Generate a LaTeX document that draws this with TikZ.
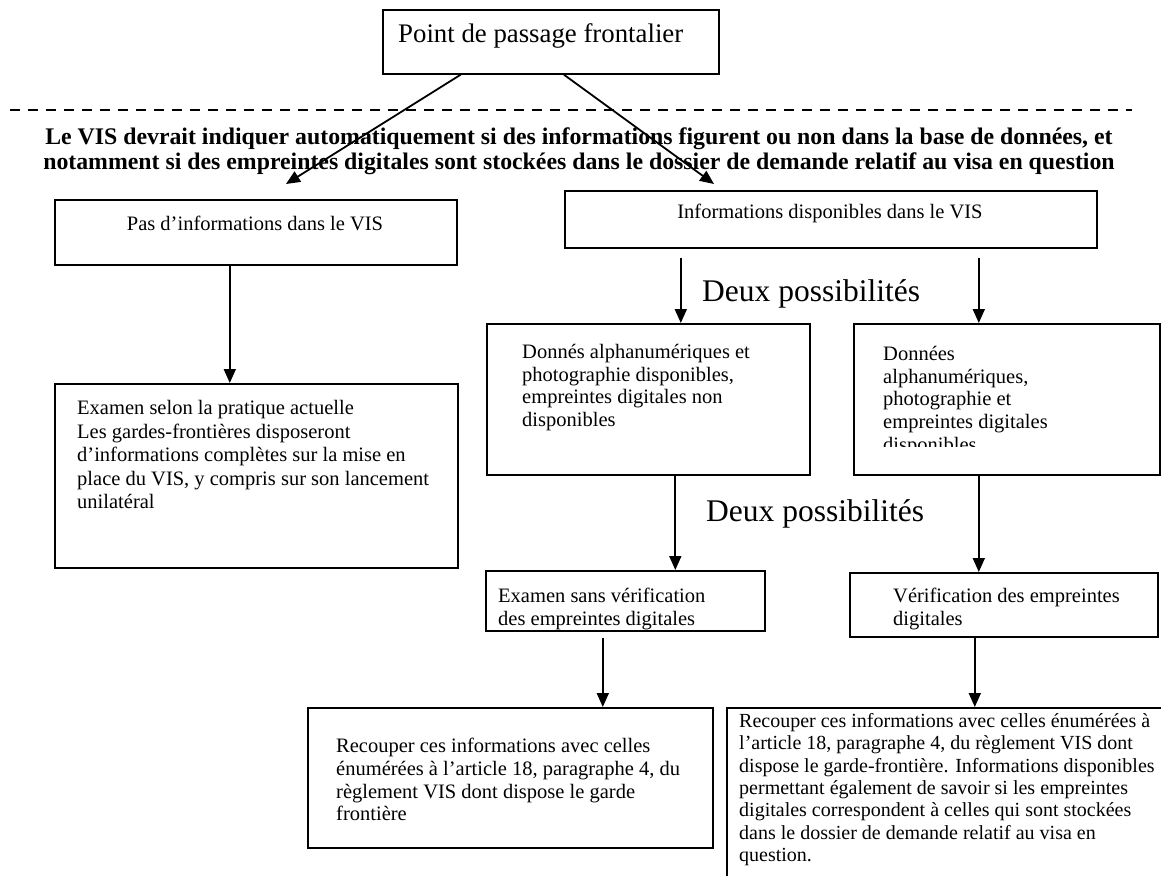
\documentclass[tikz,border=0pt]{standalone}
\usepackage{fontspec}
\setmainfont{Liberation Serif}
\usetikzlibrary{arrows.meta}
\begin{document}
\begin{tikzpicture}[x=1pt,y=-1pt,
  box/.style={draw, line width=1.6pt, inner sep=0pt, anchor=north west},
  txt/.style={inner sep=0pt, align=left, anchor=north west, font=\fontsize{20.5}{22.7}\selectfont},
  onetxt/.style={inner sep=0pt, anchor=base, font=\fontsize{20.5}{22.7}\selectfont},
  big/.style={inner sep=0pt, anchor=base west, font=\fontsize{31.5}{36}\selectfont},
  arr/.style={line width=1.8pt, -{Triangle[length=14pt,width=12pt]}},
  dashline/.style={line width=2pt, dash pattern=on 10pt off 8pt}]
\useasboundingbox (0,0) rectangle (1161,875);
\clip (0,0) rectangle (1161,875);

% top box
\node[box, minimum width=336pt, minimum height=64pt] (top) at (382,9) {};
\node[inner sep=0pt, anchor=base west, font=\fontsize{26.8}{30}\selectfont] (toptxt) at (398,42) {Point de passage frontalier};

% dashed separator
\coordinate (dl) at (10,110);
\coordinate (dr) at (1132,110);
\draw[dashline] (dl) -- (dr);

% bold statement
\node[inner sep=0pt, anchor=north, align=center, font=\bfseries\fontsize{23.8}{24.5}\selectfont] (vis) at (579,128)
  {Le VIS devrait indiquer automatiquement si des informations figurent ou non dans la base de données, et\\
   notamment si des empreintes digitales sont stockées dans le dossier de demande relatif au visa en question};

\coordinate (tipL) at (286,184);
\coordinate (tipR) at (714,184);
\draw[arr] ([xshift=-90pt]top.south) -- (tipL);
\draw[arr] ([xshift=13pt]top.south) -- (tipR);

% left branch
\node[box, minimum width=402pt, minimum height=65pt] (pas) at (54,199) {};
\node[onetxt] (pastxt) at (255,230) {Pas d’informations dans le VIS};

\node[box, minimum width=403pt, minimum height=184pt] (ex1) at (54,383) {};
\node[txt, font=\fontsize{20.5}{23.6}\selectfont] (ex1txt) at (77,400)
  {Examen selon la pratique actuelle\\Les gardes-frontières disposeront\\d’informations complètes sur la mise en\\place du VIS, y compris sur son lancement\\unilatéral};

\coordinate (a1) at ([xshift=-26pt]pas.south);
\draw[arr] (a1) -- (a1 |- ex1.north);

% right branch
\node[box, minimum width=532pt, minimum height=57pt] (info) at (564,190) {};
\node[onetxt] (infotxt) at (830,218) {Informations disponibles dans le VIS};

\node[big] (deux1) at (702,301) {Deux possibilités};

\node[box, minimum width=323pt, minimum height=151pt] (don1) at (486,323) {};
\node[txt] (don1txt) at (522,344)
  {Donnés alphanumériques et\\photographie disponibles,\\empreintes digitales non\\disponibles};

\node[box, minimum width=306pt, minimum height=151pt] (don2) at (853,323) {};
\begin{scope}
  \clip (853,323) rectangle (1159,446);
  \node[txt] (don2txt) at (883,346)
    {Données\\alphanumériques,\\photographie et\\empreintes digitales\\disponibles};
\end{scope}

\coordinate (i1) at ([xshift=-150pt,yshift=-9pt]info.south);
\coordinate (i2) at ([xshift=148pt,yshift=-9pt]info.south);
\draw[arr] (i1) -- (i1 |- don1.north);
\draw[arr] (i2) -- (i2 |- don2.north);

\node[big] (deux2) at (706,521) {Deux possibilités};

\node[box, minimum width=279pt, minimum height=60pt] (ex2) at (485,570) {};
\node[txt] (ex2txt) at (498,588) {Examen sans vérification\\des empreintes digitales};

\node[box, minimum width=308pt, minimum height=64pt] (ver) at (849,572) {};
\node[txt] (vertxt) at (893,588) {Vérification des empreintes\\digitales};

\coordinate (d1) at ([xshift=27pt]don1.south);
\coordinate (d2) at ([xshift=-28pt]don2.south);
\draw[arr] (d1) -- (d1 |- ex2.north);
\draw[arr] (d2) -- (d2 |- ver.north);

\node[box, minimum width=405pt, minimum height=140pt] (rec1) at (307,707) {};
\node[txt] (rec1txt) at (336,738)
  {Recouper ces informations avec celles\\énumérées à l’article 18, paragraphe 4, du\\règlement VIS dont dispose le garde\\frontière};

\node[box, minimum width=460pt, minimum height=190pt] (rec2) at (726,707) {};
\node[txt, font=\fontsize{20}{22.4}\selectfont] (rec2txt) at (739,713)
  {Recouper ces informations avec celles énumérées à\\l’article 18, paragraphe 4, du règlement VIS dont\\dispose le garde-frontière. Informations disponibles\\permettant également de savoir si les empreintes\\digitales correspondent à celles qui sont stockées\\dans le dossier de demande relatif au visa en\\question.};

\coordinate (e2) at ([xshift=-22.5pt,yshift=-6pt]ex2.south);
\coordinate (v2) at ([xshift=-29pt]ver.south);
\draw[arr] (e2) -- (e2 |- rec1.north);
\draw[arr] (v2) -- (v2 |- rec2.north);
\end{tikzpicture}
\end{document}
